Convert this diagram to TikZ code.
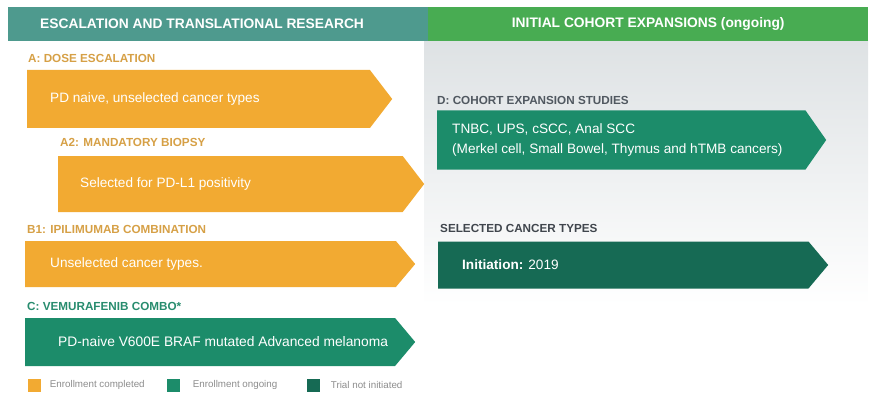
\documentclass[tikz,border=0pt]{standalone}
\usepackage{fontspec}
\setmainfont{Liberation Sans}
\usetikzlibrary{shapes.symbols,positioning}

\begin{document}
\begin{tikzpicture}[x=1pt,y=-1pt]
\definecolor{headteal}{RGB}{78,154,142}
\definecolor{headgreen}{RGB}{72,172,82}
\definecolor{donecolor}{RGB}{242,170,50}
\definecolor{ongoingcolor}{RGB}{28,140,106}
\definecolor{pendingcolor}{RGB}{22,106,84}
\definecolor{panelgray}{RGB}{222,226,228}
\definecolor{donelabel}{RGB}{214,160,70}
\definecolor{ongoinglabel}{RGB}{40,140,110}
\definecolor{darklabel}{RGB}{80,88,96}
\definecolor{legendtext}{RGB}{140,140,140}
\tikzstyle{banner}=[inner sep=0pt,minimum height=34pt,anchor=north west]
\tikzstyle{bannertext}=[text=white,inner sep=0pt,font=\fontsize{13.8}{15}\selectfont\bfseries]
\tikzstyle{phase}=[signal,signal to=east,signal pointer angle=105,inner sep=0pt,anchor=west]
\tikzstyle{phasetext}=[text=white,inner sep=0pt,anchor=west,align=left,font=\fontsize{13.6}{20}\selectfont]
\tikzstyle{tag}=[inner sep=0pt,anchor=west,font=\fontsize{11.7}{13}\selectfont\bfseries]
\tikzstyle{key}=[inner sep=0pt,minimum width=13pt,minimum height=13pt]
\tikzstyle{keytext}=[inner sep=0pt,text=legendtext,font=\fontsize{9.8}{11}\selectfont]
\tikzstyle{done}=[fill=donecolor]
\tikzstyle{ongoing}=[fill=ongoingcolor]
\tikzstyle{pending}=[fill=pendingcolor]
\useasboundingbox (0,0) rectangle (875,393);
% panels
\shade[top color=panelgray,bottom color=white] (424,41) rectangle (868,305);
\node[banner,fill=headteal,minimum width=422pt] (lefthead) at (8,7) {};
\node[banner,fill=headgreen,minimum width=440pt] (righthead) at (428,7) {};
\node[bannertext,anchor=west] (lefttitle) at (40,24) {ESCALATION AND TRANSLATIONAL RESEARCH};
\node[bannertext] (righttitle) at (righthead.center) {INITIAL COHORT EXPANSIONS (ongoing)};
% escalation arms
\node[tag,text=donelabel] (dosetag) at (28,58) {A: DOSE ESCALATION};
\node[phase,done,minimum width=365pt,minimum height=58pt] (dose) at (27,99) {};
\node[phasetext] (dosetext) at ([xshift=23pt]dose.west) {PD naive, unselected cancer types};
\node[tag,text=donelabel] (biopsytag) at (60,142) {A2: MANDATORY BIOPSY};
\node[phase,done,minimum width=366pt,minimum height=56pt] (biopsy) at (58,184) {};
\node[phasetext] (biopsytext) at ([xshift=22pt]biopsy.west) {Selected for PD-L1 positivity};
\node[tag,text=donelabel] (ipitag) at (27,229) {B1: IPILIMUMAB COMBINATION};
\node[phase,done,minimum width=390pt,minimum height=46pt,signal pointer angle=100] (ipi) at (25,264) {};
\node[phasetext] (ipitext) at ([xshift=25pt]ipi.west) {Unselected cancer types.};
\node[tag,text=ongoinglabel] (vemutag) at (27,306) {C: VEMURAFENIB COMBO*};
\node[phase,ongoing,minimum width=390pt,minimum height=48pt,signal pointer angle=100] (vemu) at (25,342) {};
\node[phasetext,font=\fontsize{13.8}{16}\selectfont] (vemutext) at ([xshift=33pt]vemu.west) {PD-naive V600E BRAF mutated Advanced melanoma};
% expansion cohorts
\node[tag,text=darklabel] (cohorttag) at (437,100) {D: COHORT EXPANSION STUDIES};
\node[phase,ongoing,minimum width=389pt,minimum height=59pt,signal pointer angle=110] (cohort) at (437,140) {};
\node[phasetext] (cohorttext) at ([xshift=15pt]cohort.west) {TNBC, UPS, cSCC, Anal SCC\\(Merkel cell, Small Bowel, Thymus and hTMB cancers)};
\node[tag,text=darklabel!80!black] (selecttag) at (440,228) {SELECTED CANCER TYPES};
\node[phase,pending,minimum width=390pt,minimum height=47pt,signal pointer angle=100] (select) at (438,265) {};
\node[phasetext] (selecttext) at ([xshift=24pt]select.west) {\textbf{Initiation:} 2019};
% legend
\node[key,done] (keydone) at (34,385) {};
\node[keytext,right=9pt of keydone] (keydonetext) {Enrollment completed};
\node[key,ongoing] (keyongoing) at (173,385) {};
\node[keytext,right=13pt of keyongoing] (keyongoingtext) {Enrollment ongoing};
\node[key,pending] (keypending) at (313,385) {};
\node[keytext,right=11pt of keypending] (keypendingtext) {Trial not initiated};
\end{tikzpicture}
\end{document}
